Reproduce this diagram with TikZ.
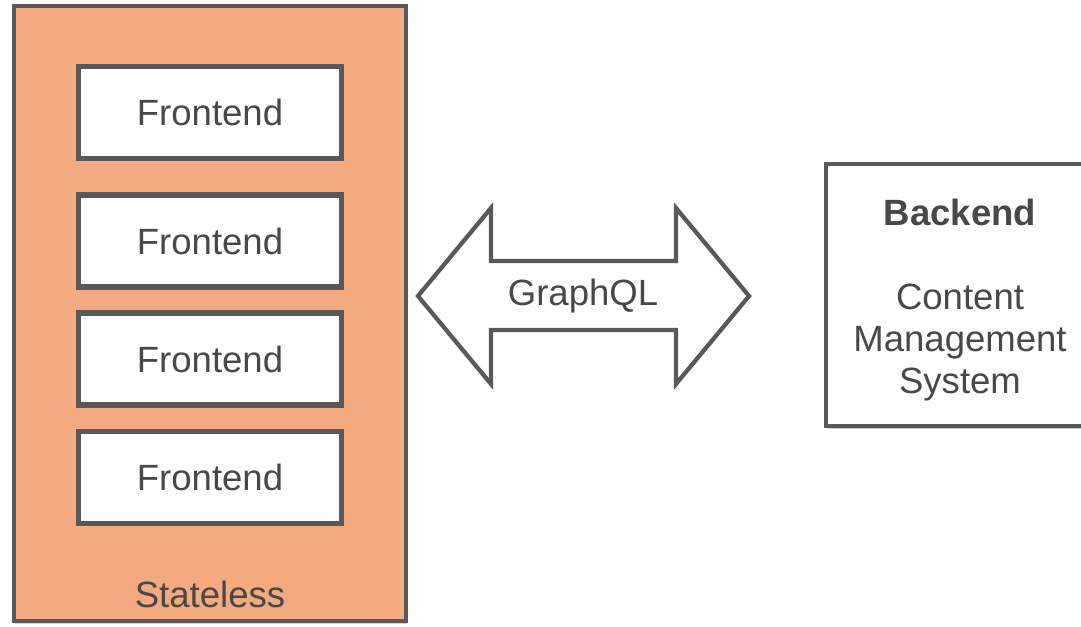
\documentclass[tikz,border=0pt]{standalone}
\usepackage{fontspec}
\setmainfont{Liberation Sans}
\usetikzlibrary{positioning,shadows}

\definecolor{lineGray}{RGB}{89,89,89}
\definecolor{textGray}{RGB}{72,72,72}
\definecolor{salmon}{RGB}{244,169,126}

\begin{document}
\begin{tikzpicture}[
    x=0.75pt, y=-0.75pt,
    every node/.style={font=\fontsize{27.4}{31.5}\selectfont, text=textGray},
    softshadow/.style={drop shadow={opacity=0.3, fill=black!60, shadow xshift=1pt, shadow yshift=-2pt}},
    panel/.style={draw=lineGray, line width=3.2pt, fill=salmon, minimum width=294pt, minimum height=461pt, softshadow},
    frontbox/.style={draw=lineGray, line width=3.8pt, fill=white, minimum width=197pt, minimum height=69pt, softshadow},
    backbox/.style={draw=lineGray, line width=3.2pt, fill=white, minimum width=201pt, minimum height=196.5pt, softshadow}
]
\useasboundingbox (0,0) rectangle (1081,626);
\clip (0,0) rectangle (1081,626);

\node[panel] (stateless) at (210,313.5) {};
\node[frontbox] (fe1) at (210,112.5) {Frontend};
\node[frontbox] (fe2) at (210,241) {Frontend};
\node[frontbox] (fe3) at (210,359) {Frontend};
\node[frontbox] (fe4) at (210,477.5) {Frontend};
\node[anchor=base] (statelessLabel) at (210,607) {Stateless};

\node[backbox] (backend) at (960,295) {};
\node[align=center] (cms) at (960,300)
    {\textbf{Backend}\\[31.5pt]Content\\Management\\System};

% double arrow between the two sides
\draw[draw=lineGray, line width=3.2pt, fill=white, line join=miter]
    (418,296) -- (491,208) -- (491,261) -- (676,261) -- (676,208)
    -- (749,296) -- (676,384) -- (676,330) -- (491,330) -- (491,384) -- cycle;
\node (gql) at (583,296) {GraphQL};
\end{tikzpicture}
\end{document}
